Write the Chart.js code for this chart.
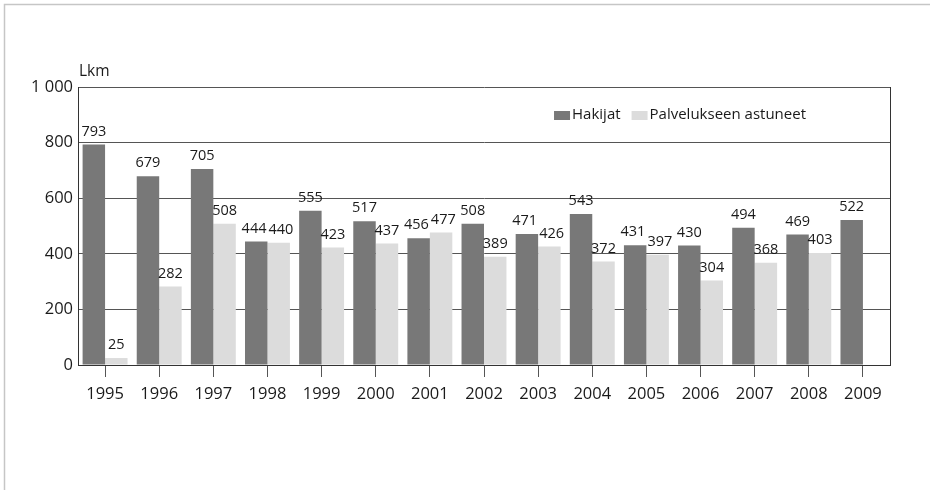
<!DOCTYPE html>
<html>
<head>
<meta charset="utf-8">
<script src="https://cdn.jsdelivr.net/npm/chart.js@4"></script>
<style>
html,body{margin:0;padding:0;background:#fff;}
#wrap{width:930px;height:490px;position:relative;}
</style>
</head>
<body>
<div id="wrap"><canvas id="c" width="930" height="490"></canvas></div>
<script>
const years = ['1995','1996','1997','1998','1999','2000','2001','2002','2003','2004','2005','2006','2007','2008','2009'];
const hakijat = [793, 679, 705, 444, 555, 517, 456, 508, 471, 543, 431, 430, 494, 469, 522];
const astuneet = [25, 282, 508, 440, 423, 437, 477, 389, 426, 372, 397, 304, 368, 403, null];
const seriesNames = ['Hakijat', 'Palvelukseen astuneet'];
const yTicks = [0, 200, 400, 600, 800, 1000];
const unitLabel = 'Lkm';

const FONT = '"Open Sans", "DejaVu Sans Condensed", sans-serif';
const DARK = '#787878';
const LIGHT = '#dcdcdc';
const LINE = '#555555';
const TEXT = '#1a1a1a';

function fmt(v){ return String(v).replace(/\B(?=(\d{3})+(?!\d))/g, ' '); }

const decor = {
  id: 'decor',
  beforeDraw(chart){
    const ctx = chart.ctx;
    ctx.save();
    ctx.fillStyle = '#fff';
    ctx.fillRect(0,0,chart.width,chart.height);
    ctx.strokeStyle = '#c6c6c6';
    ctx.lineWidth = 1.5;
    ctx.beginPath();
    ctx.moveTo(4.5, chart.height);
    ctx.lineTo(4.5, 4.5);
    ctx.lineTo(chart.width, 4.5);
    ctx.stroke();
    ctx.restore();
  },
  afterDraw(chart){
    const ctx = chart.ctx;
    const a = chart.chartArea;
    ctx.save();
    // right frame
    ctx.strokeStyle = '#333';
    ctx.lineWidth = 1;
    ctx.beginPath();
    ctx.moveTo(Math.round(a.right)+0.5, a.top);
    ctx.lineTo(Math.round(a.right)+0.5, a.bottom);
    ctx.stroke();
    // unit label
    ctx.fillStyle = TEXT;
    ctx.font = '15.5px ' + FONT;
    ctx.textAlign = 'left';
    ctx.textBaseline = 'middle';
    ctx.fillText(unitLabel, a.left + 1, a.top - 15);
    // value labels
    ctx.font = '14.5px ' + FONT;
    ctx.textAlign = 'center';
    ctx.textBaseline = 'middle';
    const m0 = chart.getDatasetMeta(0), m1 = chart.getDatasetMeta(1);
    years.forEach((yr, i) => {
      const items = [];
      [m0, m1].forEach((meta, di) => {
        const v = chart.data.datasets[di].data[i];
        if (v === null || v === undefined) return;
        const el = meta.data[i];
        items.push({ text: String(v), x: el.x, y: el.y - 13, w: ctx.measureText(String(v)).width });
      });
      if (items.length === 2 && Math.abs(items[0].y - items[1].y) < 14) {
        const overlap = (items[0].x + items[0].w/2 + 2) - (items[1].x - items[1].w/2);
        if (overlap > 0) { items[0].x -= overlap/2; items[1].x += overlap/2; }
      }
      items.forEach(it => ctx.fillText(it.text, it.x, it.y));
    });
    // legend
    ctx.font = '15px ' + FONT;
    ctx.textAlign = 'left';
    const sw = 16, sh = 9, gap1 = 2, gap2 = 11;
    const widths = seriesNames.map(n => ctx.measureText(n).width);
    let total = 0;
    widths.forEach((w, i) => { total += sw + gap1 + w + (i < widths.length - 1 ? gap2 : 0); });
    let x = a.right - 84 - total;
    const ym = a.top + 28;
    chart.data.datasets.forEach((ds, i) => {
      ctx.fillStyle = ds.backgroundColor;
      ctx.fillRect(x, ym - sh/2 + 0.5, sw, sh);
      x += sw + gap1;
      ctx.fillStyle = TEXT;
      ctx.fillText(seriesNames[i], x, ym);
      x += widths[i] + gap2;
    });
    ctx.restore();
  }
};

new Chart(document.getElementById('c'), {
  type: 'bar',
  data: {
    labels: years,
    datasets: [
      { label: seriesNames[0], data: hakijat, backgroundColor: DARK, borderWidth: 0 },
      { label: seriesNames[1], data: astuneet, backgroundColor: LIGHT, borderWidth: 0 }
    ]
  },
  options: {
    responsive: false,
    animation: false,
    devicePixelRatio: 1,
    layout: { padding: { top: 87, right: 40, bottom: 85, left: 0 } },
    datasets: { bar: { categoryPercentage: 0.83, barPercentage: 1.0 } },
    plugins: { legend: { display: false }, tooltip: { enabled: false } },
    scales: {
      x: {
        offset: true,
        afterFit(s){ s.height = 40; },
        grid: { display: true, drawOnChartArea: false, offset: false, drawTicks: true, tickLength: 12, color: LINE, lineWidth: 1 },
        border: { display: true, color: '#333', width: 1 },
        ticks: { color: TEXT, font: { family: FONT, size: 16.5 }, padding: 7, maxRotation: 0, autoSkip: false }
      },
      y: {
        min: 0, max: 1000,
        afterFit(s){ s.width = 78; },
        afterBuildTicks(s){ s.ticks = yTicks.map(v => ({ value: v })); },
        grid: { display: true, drawTicks: false, color: LINE, lineWidth: 1 },
        border: { display: true, color: '#333', width: 1 },
        ticks: { color: TEXT, font: { family: FONT, size: 16.5 }, padding: 5, callback: v => fmt(v) }
      }
    }
  },
  plugins: [decor]
});
</script>
</body>
</html>
